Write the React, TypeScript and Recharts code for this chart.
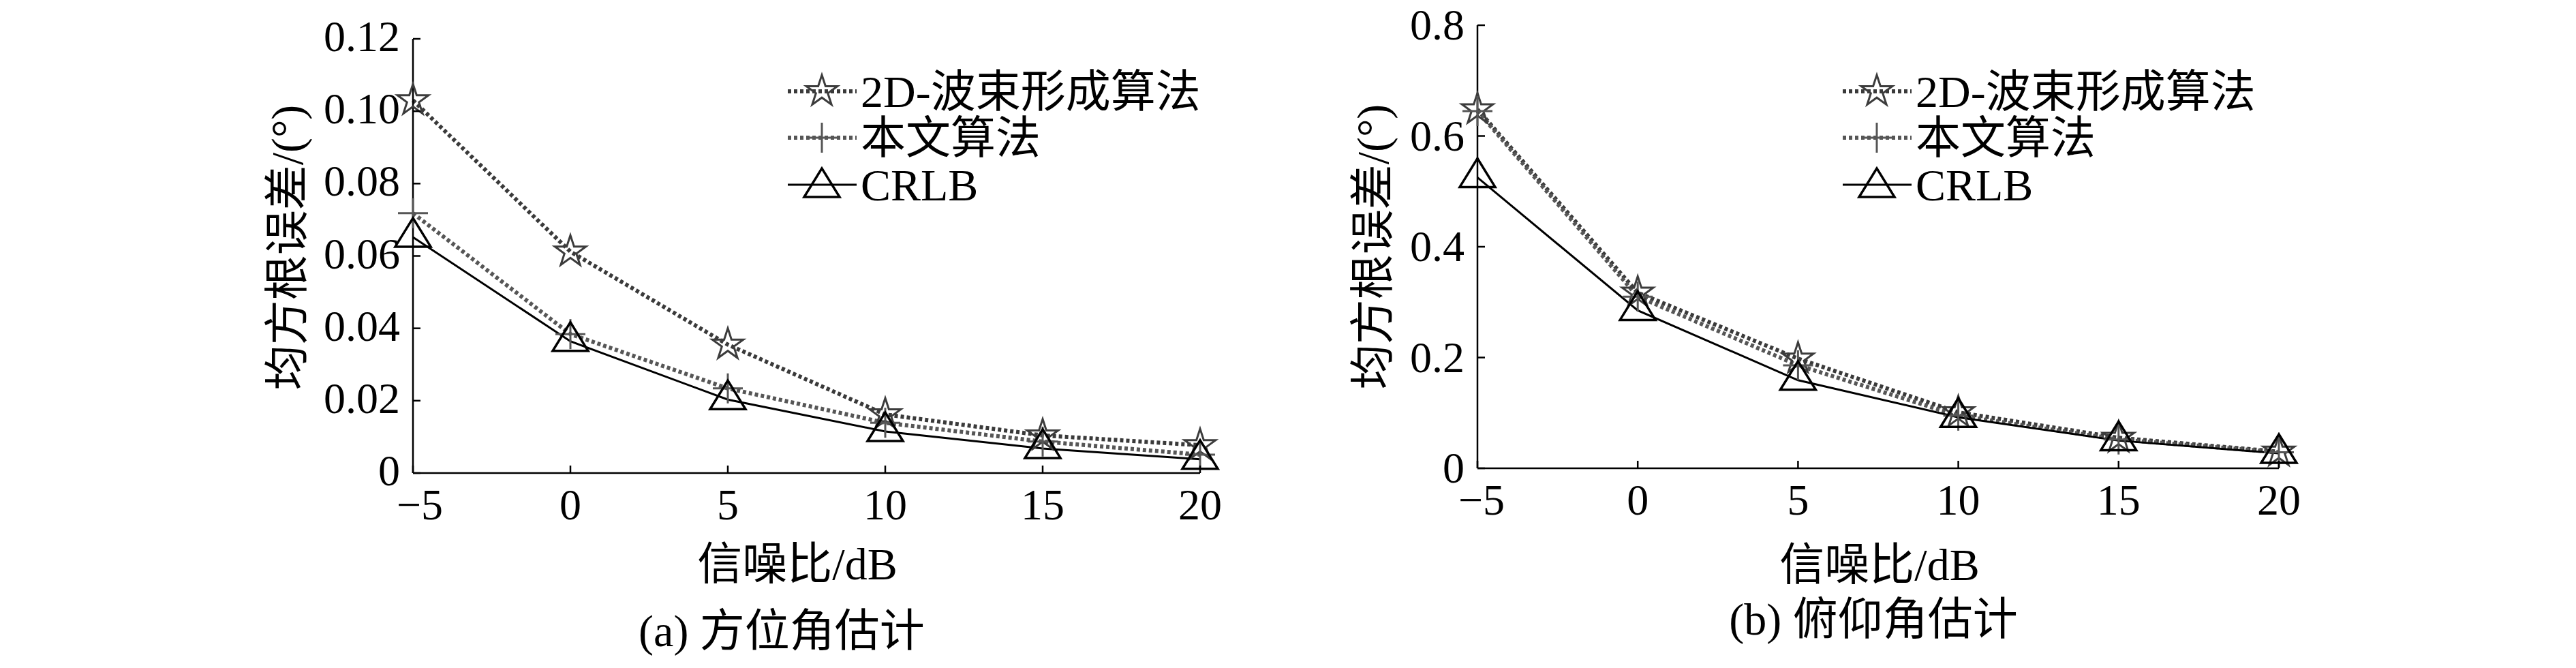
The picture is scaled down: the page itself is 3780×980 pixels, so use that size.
import React from 'react';
import { LineChart, Line, XAxis, YAxis, Legend } from 'recharts';

// ---------- data ----------
const snr = [-5, 0, 5, 10, 15, 20];
const xTickLabels = ['\u22125', '0', '5', '10', '15', '20'];

const beamAz = [0.103, 0.0612, 0.0355, 0.0162, 0.0104, 0.0077];
const propAz = [0.0718, 0.0384, 0.0234, 0.0139, 0.0087, 0.0051];
const crlbAz = [0.0652, 0.0364, 0.0203, 0.0115, 0.0068, 0.0038];
const yTicksAz = [0, 0.02, 0.04, 0.06, 0.08, 0.1, 0.12];
const yTickLabelsAz = ['0', '0.02', '0.04', '0.06', '0.08', '0.10', '0.12'];

const beamEl = [0.648, 0.317, 0.198, 0.101, 0.055, 0.03];
const propEl = [0.645, 0.31, 0.186, 0.095, 0.052, 0.029];
const crlbEl = [0.525, 0.285, 0.159, 0.092, 0.05, 0.027];
const yTicksEl = [0, 0.2, 0.4, 0.6, 0.8];
const yTickLabelsEl = ['0', '0.2', '0.4', '0.6', '0.8'];

const seriesNames = ['2D-波束形成算法', '本文算法', 'CRLB'];
const yTitle = '均方根误差/(°)';
const xTitle = '信噪比/dB';
const captionAz = '(a) 方位角估计';
const captionEl = '(b) 俯仰角估计';

const dataAz = snr.map((s, i) => ({ snr: s, beam: beamAz[i], prop: propAz[i], crlb: crlbAz[i] }));
const dataEl = snr.map((s, i) => ({ snr: s, beam: beamEl[i], prop: propEl[i], crlb: crlbEl[i] }));

// ---------- styles ----------
const FONT = '"Liberation Serif", "Noto Sans CJK SC", serif';
const BEAM_COLOR = '#3a3a3a';
const PROP_COLOR = '#565656';

function starPoints(cx: number, cy: number, R: number) {
  const r = R * 0.382;
  const pts: string[] = [];
  for (let i = 0; i < 10; i++) {
    const a = ((-90 + i * 36) * Math.PI) / 180;
    const rr = i % 2 === 0 ? R : r;
    pts.push(`${cx + rr * Math.cos(a)},${cy + rr * Math.sin(a)}`);
  }
  return pts.join(' ');
}

const StarMark = ({ cx, cy }: { cx: number; cy: number }) => (
  <polygon points={starPoints(cx, cy, 24)} fill="none" stroke="#3c3c3c" strokeWidth={3} />
);
const PlusMark = ({ cx, cy }: { cx: number; cy: number }) => (
  <g stroke={PROP_COLOR} strokeWidth={3}>
    <line x1={cx - 22} y1={cy} x2={cx + 22} y2={cy} />
    <line x1={cx} y1={cy - 22} x2={cx} y2={cy + 22} />
  </g>
);
const TriMark = ({ cx, cy }: { cx: number; cy: number }) => (
  <polygon
    points={`${cx},${cy - 28} ${cx - 26},${cy + 14} ${cx + 26},${cy + 14}`}
    fill="none"
    stroke="#000"
    strokeWidth={3.5}
  />
);

const makeXTick = (labels: string[], firstShift: number) => (props: any) => {
  const { x, y, index } = props;
  const dx = index === 0 ? firstShift : 0;
  return (
    <g key={`xt-${index}`}>
      <line x1={x} y1={y} x2={x} y2={y - 11} stroke="#000" strokeWidth={2.5} />
      <text x={x + dx} y={y + 68} textAnchor="middle" fontSize={64} fontFamily={FONT} fill="#000">
        {labels[index]}
      </text>
    </g>
  );
};

const makeYTick = (labels: string[], dy: number) => (props: any) => {
  const { x, y, index } = props;
  return (
    <g key={`yt-${index}`}>
      <line x1={x} y1={y} x2={x + 11} y2={y} stroke="#000" strokeWidth={2.5} />
      <text x={x - 19} y={y + dy} textAnchor="end" fontSize={64} fontFamily={FONT} fill="#000">
        {labels[index]}
      </text>
    </g>
  );
};

const LegendBox = () => {
  const rows = [39, 107, 176];
  return (
    <svg width={660} height={230} style={{ display: 'block', overflow: 'visible' }}>
      <line x1={6} y1={rows[0]} x2={107} y2={rows[0]} stroke={BEAM_COLOR} strokeWidth={6} strokeDasharray="5 4" />
      <StarMark cx={56} cy={rows[0]} />
      <line x1={6} y1={rows[1]} x2={107} y2={rows[1]} stroke={PROP_COLOR} strokeWidth={6} strokeDasharray="5 4" />
      <PlusMark cx={56} cy={rows[1]} />
      <line x1={6} y1={rows[2]} x2={107} y2={rows[2]} stroke="#000" strokeWidth={3} />
      <TriMark cx={56} cy={rows[2] + 4} />
      {seriesNames.map((n, i) => (
        <text key={n} x={113} y={rows[i]} dominantBaseline="central" fontSize={66} fontFamily={FONT} fill="#000">
          {n}
        </text>
      ))}
    </svg>
  );
};

type PanelProps = {
  data: any[];
  yTicks: number[];
  yLabels: string[];
  yMax: number;
  width: number;
  margin: { top: number; right: number; bottom: number; left: number };
  legendLeft: number;
  firstShift: number;
  yLabelDy: number;
};

const Panel = ({ data, yTicks, yLabels, yMax, width, margin, legendLeft, firstShift, yLabelDy }: PanelProps) => (
  <LineChart width={width} height={980} data={data} margin={margin}>
    <XAxis
      dataKey="snr"
      type="number"
      domain={[-5, 20]}
      ticks={snr}
      interval={0}
      height={86}
      tickSize={0}
      tickMargin={0}
      tickLine={false}
      axisLine={{ stroke: '#000', strokeWidth: 2.5 }}
      tick={makeXTick(xTickLabels, firstShift)}
    />
    <YAxis
      type="number"
      domain={[0, yMax]}
      ticks={yTicks}
      interval={0}
      width={100}
      tickSize={0}
      tickMargin={0}
      tickLine={false}
      axisLine={{ stroke: '#000', strokeWidth: 2.5 }}
      tick={makeYTick(yLabels, yLabelDy)}
    />
    <Legend
      layout="vertical"
      align="center"
      verticalAlign="middle"
      content={() => <LegendBox />}
      wrapperStyle={{ left: legendLeft, top: 95, width: 660, height: 230 }}
    />
    <Line
      dataKey="beam"
      name={seriesNames[0]}
      type="linear"
      stroke={BEAM_COLOR}
      strokeWidth={6}
      strokeDasharray="5 4"
      isAnimationActive={false}
      dot={(p: any) => <StarMark key={`s-${p.index}`} cx={p.cx} cy={p.cy} />}
    />
    <Line
      dataKey="prop"
      name={seriesNames[1]}
      type="linear"
      stroke={PROP_COLOR}
      strokeWidth={6}
      strokeDasharray="5 4"
      isAnimationActive={false}
      dot={(p: any) => <PlusMark key={`p-${p.index}`} cx={p.cx} cy={p.cy} />}
    />
    <Line
      dataKey="crlb"
      name={seriesNames[2]}
      type="linear"
      stroke="#000"
      strokeWidth={3}
      isAnimationActive={false}
      dot={(p: any) => <TriMark key={`c-${p.index}`} cx={p.cx} cy={p.cy} />}
    />
  </LineChart>
);

const textStyle = (left: number, top: number, rotate = false): React.CSSProperties => ({
  position: 'absolute',
  left,
  top,
  transform: `translate(-50%, -50%)${rotate ? ' rotate(-90deg)' : ''}`,
  fontSize: 66,
  lineHeight: 1,
  fontFamily: FONT,
  whiteSpace: 'nowrap',
  color: '#000',
});

export default function App() {
  return (
    <div style={{ position: 'absolute', left: 0, top: 0, width: 3780, height: 980, background: '#fff', overflow: 'hidden' }}>
      <div style={{ position: 'absolute', left: 0, top: 0 }}>
        <Panel
          data={dataAz}
          yTicks={yTicksAz}
          yLabels={yTickLabelsAz}
          yMax={0.12}
          width={1900}
          margin={{ top: 57, right: 139, bottom: 200, left: 506 }}
          legendLeft={1150}
          firstShift={10}
          yLabelDy={18}
        />
      </div>
      <div style={{ position: 'absolute', left: 1900, top: 0 }}>
        <Panel
          data={dataEl}
          yTicks={yTicksEl}
          yLabels={yTickLabelsEl}
          yMax={0.8}
          width={1880}
          margin={{ top: 37, right: 436, bottom: 207, left: 168 }}
          legendLeft={798}
          firstShift={6}
          yLabelDy={21}
        />
      </div>
      <div style={textStyle(422, 363, true)}>{yTitle}</div>
      <div style={textStyle(1170, 828)}>{xTitle}</div>
      <div style={textStyle(1147, 926)}>{captionAz}</div>
      <div style={textStyle(2015, 362, true)}>{yTitle}</div>
      <div style={textStyle(2758, 829)}>{xTitle}</div>
      <div style={textStyle(2749, 909)}>{captionEl}</div>
    </div>
  );
}
